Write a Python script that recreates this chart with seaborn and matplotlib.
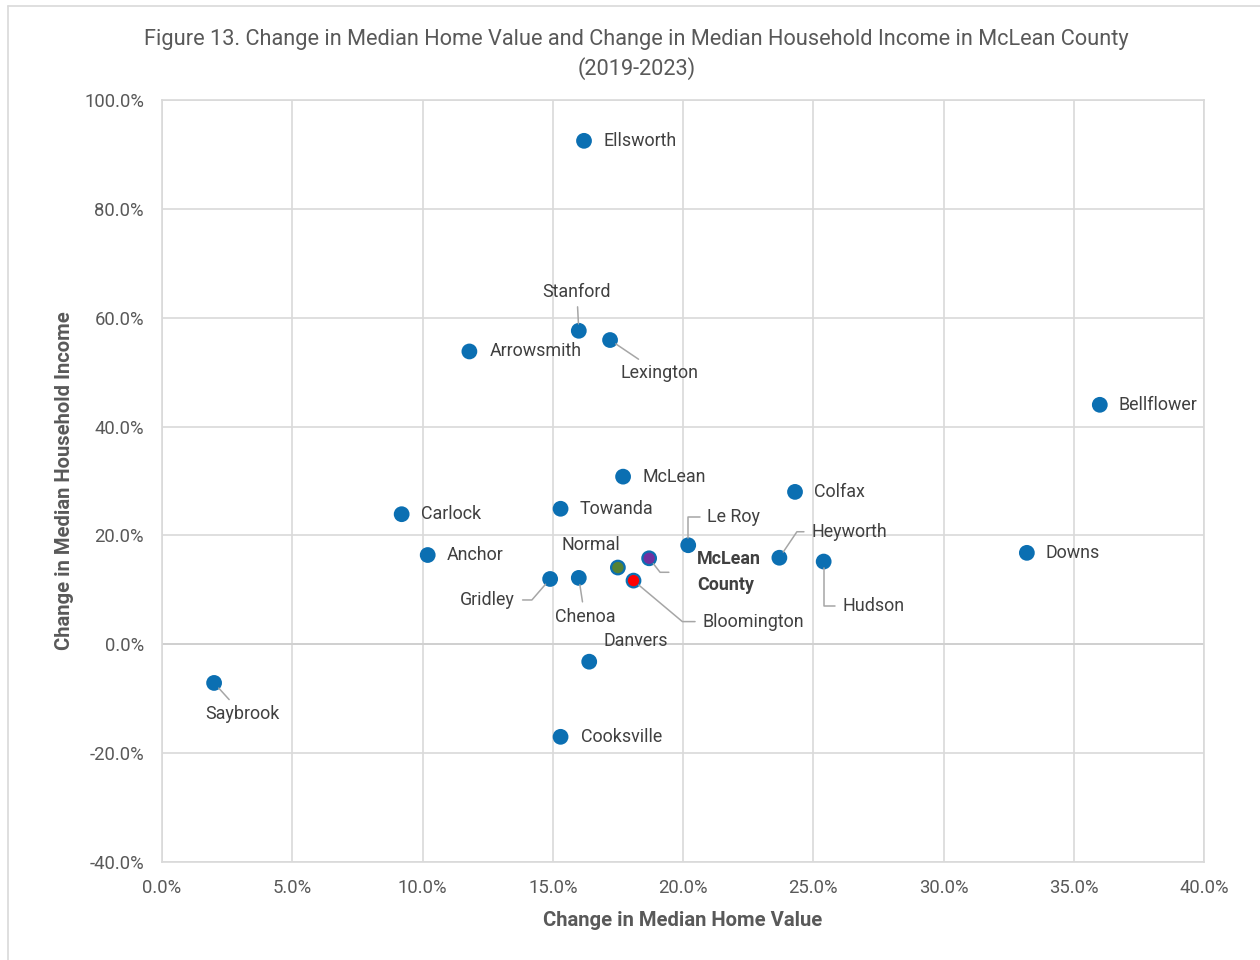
import matplotlib
matplotlib.use("Agg")
import matplotlib.pyplot as plt
from matplotlib.ticker import PercentFormatter, MultipleLocator
from matplotlib.lines import Line2D
import seaborn as sns
import pandas as pd

# ---- data (percent) ----
places = ["Ellsworth", "Stanford", "Lexington", "Arrowsmith", "Bellflower", "McLean",
          "Colfax", "Carlock", "Towanda", "Le Roy", "Anchor", "Downs", "Heyworth",
          "Hudson", "McLean County", "Normal", "Bloomington", "Gridley", "Chenoa",
          "Danvers", "Saybrook", "Cooksville"]
home_value_change = [16.2, 16.0, 17.2, 11.8, 36.0, 17.7,
                     24.3, 9.2, 15.3, 20.2, 10.2, 33.2, 23.7,
                     25.4, 18.7, 17.5, 18.1, 14.9, 16.0,
                     16.4, 2.0, 15.3]
income_change = [92.5, 57.6, 55.9, 53.8, 44.0, 30.8,
                 28.0, 23.9, 24.9, 18.2, 16.4, 16.8, 15.9,
                 15.2, 15.8, 14.1, 11.7, 12.0, 12.2,
                 -3.2, -7.1, -17.0]
kinds = ["Place"] * 14 + ["County", "Normal", "Bloomington"] + ["Place"] * 5

df = pd.DataFrame({"place": places, "x": home_value_change,
                   "y": income_change, "kind": kinds})

# label offsets in pixels (dx right, dy down), alignment, leader style, gap at text
PX = 0.72
labels = {
    "Ellsworth": (19, 0, "left", None, 2),
    "Stanford": (-2, -39, "center", "straight", 2),
    "Lexington": (49, 33, "center", "straight", 2),
    "Arrowsmith": (20, 0, "left", None, 2),
    "Bellflower": (19, 0, "left", None, 2),
    "McLean": (19, 0, "left", None, 2),
    "Colfax": (19, 0, "left", None, 2),
    "Carlock": (19, 0, "left", None, 2),
    "Towanda": (19, 0, "left", None, 2),
    "Le Roy": (19, -28, "left", "angle,angleA=0,angleB=90,rad=0", 3),
    "Anchor": (19, 0, "left", None, 2),
    "Downs": (19, 0, "left", None, 2),
    "Heyworth": (32, -26, "left", "angle,angleA=0,angleB=56,rad=0", 3),
    "Hudson": (19, 44, "left", "angle,angleA=0,angleB=90,rad=0", 3),
    "McLean County": (48, 14, "left", "angle,angleA=0,angleB=-52,rad=0", 18),
    "Normal": (-27, -23, "center", None, 2),
    "Bloomington": (69, 41, "left", "angle,angleA=0,angleB=-40,rad=0", 3),
    "Gridley": (-35, 21, "right", "angle,angleA=0,angleB=49,rad=0", 3),
    "Chenoa": (6, 39, "center", "straight", 2),
    "Danvers": (47, -21, "center", None, 2),
    "Saybrook": (28, 31, "center", "straight", 2),
    "Cooksville": (20, 0, "left", None, 2),
}

sns.set_theme(style="white")
plt.rcParams["font.family"] = ["Roboto", "DejaVu Sans"]
plt.rcParams["axes.unicode_minus"] = False

fig = plt.figure(figsize=(12.6, 9.6), dpi=100)
ax = fig.add_axes([162 / 1260, 1 - 862 / 960, (1204 - 162) / 1260, (862 - 100) / 960])

blue = "#0B6FB2"
palette = {"Place": blue, "County": "#7030A0", "Normal": "#548235", "Bloomington": "#FF0000"}
sns.scatterplot(data=df, x="x", y="y", hue="kind", palette=palette, s=95,
                edgecolor=blue, linewidth=1.6, legend=False, ax=ax, zorder=3)

ax.set_xlim(0, 40)
ax.set_ylim(-40, 100)
ax.xaxis.set_major_locator(MultipleLocator(5))
ax.yaxis.set_major_locator(MultipleLocator(20))
ax.xaxis.set_major_formatter(PercentFormatter(decimals=1))
ax.yaxis.set_major_formatter(PercentFormatter(decimals=1))
ax.grid(True, color="#d9d9d9", linewidth=1.2)
ax.axhline(0, color="#cfcfcf", linewidth=1.3, zorder=1)
for s in ax.spines.values():
    s.set_color("#d9d9d9")
    s.set_linewidth(1.2)
ax.tick_params(axis="both", length=0, labelsize=13.3, colors="#595959")
ax.tick_params(axis="x", pad=12)
ax.tick_params(axis="y", pad=13)

ax.set_xlabel("Change in Median Home Value", fontsize=14.6, fontweight="bold",
              color="#595959", labelpad=10)
ax.set_ylabel("Change in Median Household Income", fontsize=14.6, fontweight="bold",
              color="#595959", labelpad=7)

fig.text(0.505, 1 - 39 / 960, "Figure 13. Change in Median Home Value and Change in Median Household Income in McLean County",
         ha="center", va="center", fontsize=15.7, color="#595959")
fig.text(0.505, 1 - 69 / 960, "(2019-2023)", ha="center", va="center", fontsize=15.7, color="#595959")

for _, r in df.iterrows():
    dx, dy, ha, style, gap = labels[r["place"]]
    bold = r["place"] == "McLean County"
    text = "McLean\nCounty" if bold else r["place"]
    kw = {}
    if style is not None:
        kw["arrowprops"] = dict(arrowstyle="-", color="#a6a6a6", lw=1.1,
                                connectionstyle="arc3" if style == "straight" else style,
                                shrinkA=gap, shrinkB=5)
    ax.annotate(text, xy=(r["x"], r["y"]), xytext=(dx * PX, -dy * PX),
                textcoords="offset points", ha=ha, va="center",
                fontsize=12.9, color="#404040",
                fontweight="bold" if bold else "normal",
                linespacing=1.6, zorder=4, **kw)

# chart border (Excel chart area edge)
fig.add_artist(Line2D([8 / 1260, 8 / 1260], [0, 1 - 6 / 960], transform=fig.transFigure,
                      color="#d9d9d9", lw=1.2))
fig.add_artist(Line2D([8 / 1260, 1], [1 - 6 / 960, 1 - 6 / 960], transform=fig.transFigure,
                      color="#d9d9d9", lw=1.2))

fig.savefig("out.png", dpi=100, facecolor="white")
